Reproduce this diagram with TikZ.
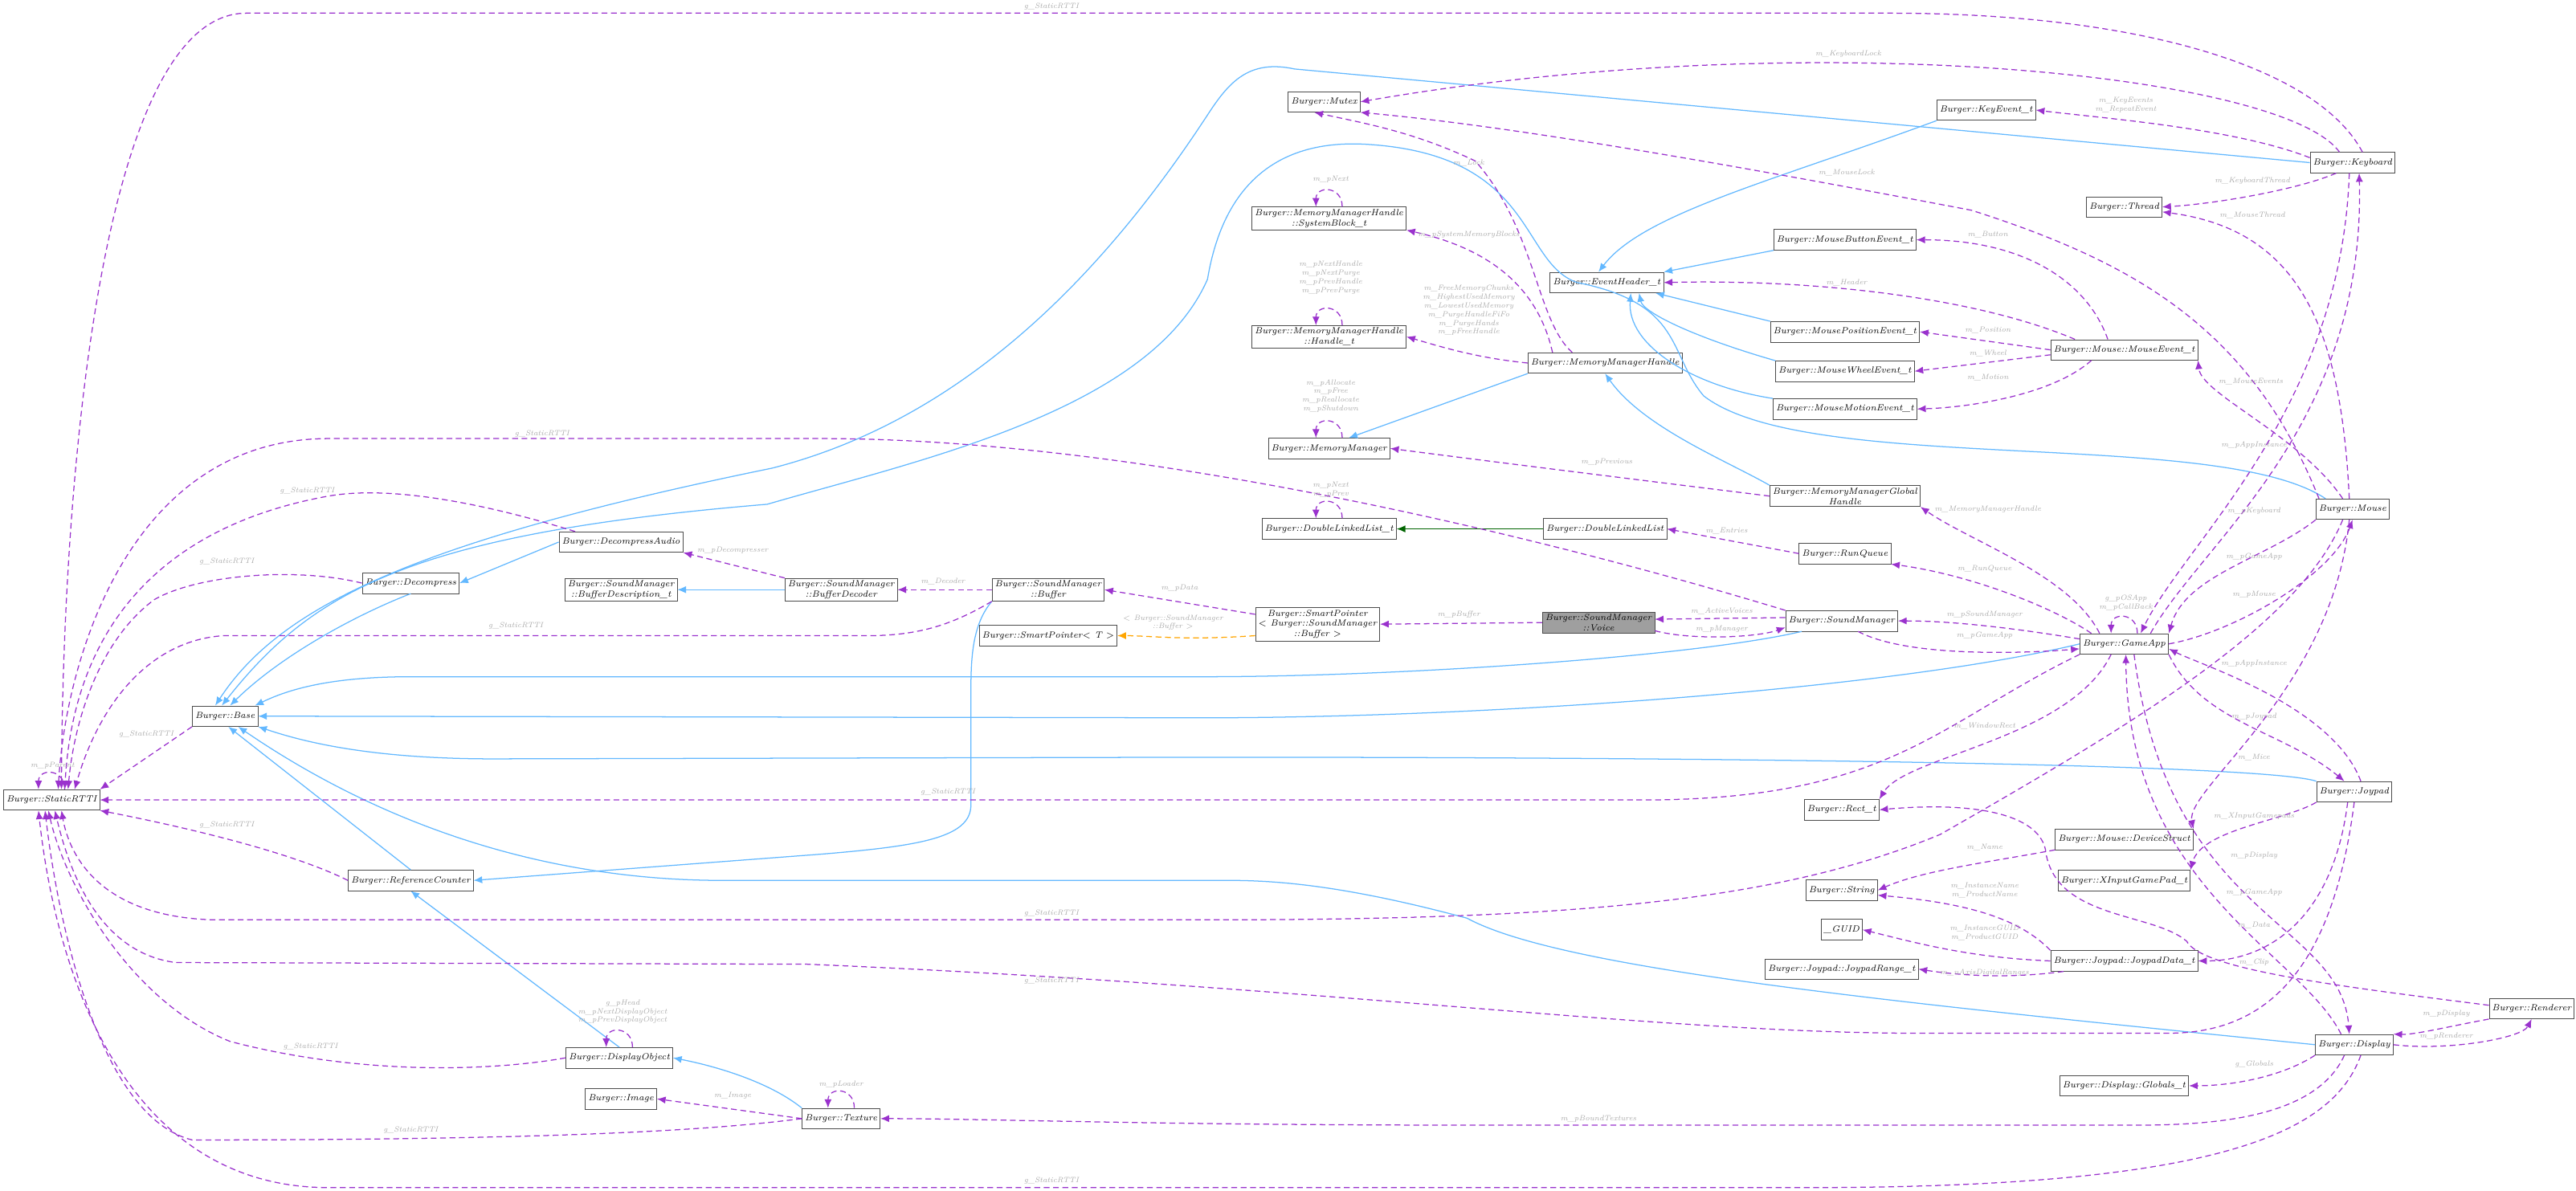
\documentclass[tikz,border=0pt]{standalone}
\usetikzlibrary{arrows.meta,calc}

\definecolor{usecol}{HTML}{9A32CD}
\definecolor{inhcol}{HTML}{63B8FF}
\definecolor{tplcol}{HTML}{FFA500}
\definecolor{grncol}{HTML}{006400}
\definecolor{lblcol}{HTML}{A8A8A8}

\tikzset{
  cls/.style={draw=gray!60!black, fill=white, font=\fontsize{6.2}{7.2}\selectfont\itshape,
    inner xsep=2pt, inner ysep=1.5pt, minimum height=0.5cm, align=center},
  cur/.style={cls, fill=gray!75},
  lbl/.style={font=\fontsize{5.2}{6}\selectfont\itshape, text=lblcol, inner sep=0.5pt, align=center},
  use/.style={draw=usecol, line width=0.7pt, dash pattern=on 4pt off 2.5pt, -{Latex[length=6pt,width=5pt]}},
  inh/.style={draw=inhcol, line width=0.7pt, -{Latex[length=6pt,width=5pt]}},
  grn/.style={draw=grncol, line width=0.9pt, -{Latex[length=6pt,width=5pt]}},
  tpl/.style={draw=tplcol, line width=0.7pt, dash pattern=on 4pt off 2.5pt, -{Latex[length=6pt,width=5pt]}}
}
\newcommand{\selfloop}[1]{\draw[use] ($(#1.north)+(8,0)$) .. controls +(0,-13) and +(0,-13) .. ($(#1.north)+(-8,0)$);}

\begin{document}
\begin{tikzpicture}[x=0.04cm, y=-0.04cm]
\useasboundingbox (0,0) rectangle (1568,725);

% classes, left part
\node[cls, anchor=west] (rtti) at (2,487) {Burger::StaticRTTI};
\node[cls] (base) at (137,436) {Burger::Base};
\node[cls] (decomp) at (250,355) {Burger::Decompress};
\node[cls] (decaud) at (378,330) {Burger::DecompressAudio};
\node[cls] (bufdesc) at (378,359) {Burger::SoundManager\\::BufferDescription\_t};
\node[cls] (bufdec) at (512,359) {Burger::SoundManager\\::BufferDecoder};
\node[cls] (sbuf) at (638,359) {Burger::SoundManager\\::Buffer};
\node[cls] (sptrT) at (638,387) {Burger::SmartPointer$<$ T $>$};
\node[cls] (sptrbuf) at (802,380) {Burger::SmartPointer\\$<$ Burger::SoundManager\\::Buffer $>$};
\node[cur] (voice) at (973,379) {Burger::SoundManager\\::Voice};
\node[cls] (sndmgr) at (1121,378) {Burger::SoundManager};
\node[cls] (gameapp) at (1293,392) {Burger::GameApp};
\node[cls] (refcnt) at (250,536) {Burger::ReferenceCounter};
\node[cls] (dispobj) at (377,644) {Burger::DisplayObject};
\node[cls] (image) at (378,669) {Burger::Image};
\node[cls] (texture) at (512,681) {Burger::Texture};

% memory and events
\node[cls] (mutex) at (806,62) {Burger::Mutex};
\node[cls] (sysblk) at (809,133) {Burger::MemoryManagerHandle\\::SystemBlock\_t};
\node[cls] (handle) at (809,205) {Burger::MemoryManagerHandle\\::Handle\_t};
\node[cls] (memmgr) at (809,273) {Burger::MemoryManager};
\node[cls] (dllt) at (809,322) {Burger::DoubleLinkedList\_t};
\node[cls] (mmh) at (977,221) {Burger::MemoryManagerHandle};
\node[cls] (mmgh) at (1123,302) {Burger::MemoryManagerGlobal\\Handle};
\node[cls] (dll) at (977,322) {Burger::DoubleLinkedList};
\node[cls] (runq) at (1123,337) {Burger::RunQueue};
\node[cls] (evhdr) at (978,172) {Burger::EventHeader\_t};
\node[cls] (keyev) at (1209,67) {Burger::KeyEvent\_t};
\node[cls] (mbtn) at (1123,146) {Burger::MouseButtonEvent\_t};
\node[cls] (mpos) at (1123,202) {Burger::MousePositionEvent\_t};
\node[cls] (mwheel) at (1123,226) {Burger::MouseWheelEvent\_t};
\node[cls] (mmotion) at (1123,249) {Burger::MouseMotionEvent\_t};
\node[cls] (mevent) at (1293,213) {Burger::Mouse::MouseEvent\_t};
\node[cls] (thread) at (1293,126) {Burger::Thread};
\node[cls] (keyboard) at (1432,99) {Burger::Keyboard};
\node[cls] (mouse) at (1432,310) {Burger::Mouse};

% right lower part
\node[cls] (joypad) at (1433,482) {Burger::Joypad};
\node[cls] (rect) at (1121,493) {Burger::Rect\_t};
\node[cls] (devstruct) at (1293,511) {Burger::Mouse::DeviceStruct};
\node[cls] (xinput) at (1293,536) {Burger::XInputGamePad\_t};
\node[cls] (string) at (1121,542) {Burger::String};
\node[cls] (guid) at (1121,566) {\_GUID};
\node[cls] (jdata) at (1293,585) {Burger::Joypad::JoypadData\_t};
\node[cls] (jrange) at (1121,590) {Burger::Joypad::JoypadRange\_t};
\node[cls] (renderer) at (1541,614) {Burger::Renderer};
\node[cls] (display) at (1433,636) {Burger::Display};
\node[cls] (globals) at (1293,661) {Burger::Display::Globals\_t};

% inheritance
\draw[inh] (keyboard.west) -- (788,42) .. controls (760,36) and (748,50) .. (735,70) .. controls (650,200) and (560,262) .. (470,285) .. controls (250,330) and (170,370) .. ($(base.north)+(-6,0)$);
\draw[inh] ($(mouse.north west)+(6,0)$) .. controls (1350,260) and (1100,290) .. (1037,241) .. controls (1015,215) and (1025,185) .. (960,172) .. controls (925,160) and (935,95) .. (834,88) .. controls (780,84) and (745,110) .. (735,170) .. controls (700,250) and (560,280) .. (467,307) .. controls (250,325) and (190,360) .. ($(base.north)+(-2,0)$);
\draw[inh] (decaud.west) -- (decomp.east);
\draw[inh] (decomp.south) .. controls (215,375) and (170,400) .. ($(base.north)+(3,0)$);
\draw[inh] ($(sndmgr.south west)+(10,0)$) .. controls (1030,400) and (850,412) .. (733,412) -- (250,412) .. controls (200,412) and (175,420) .. ($(base.north east)+(-2,0)$);
\draw[inh] (gameapp.west) .. controls (1150,420) and (900,437) .. (733,437) -- (base.east);
\draw[inh] (joypad.north west) .. controls (1380,466) and (1100,461) .. (733,461) -- (300,462) .. controls (220,462) and (180,450) .. (base.south east);
\draw[inh] (display.west) .. controls (1150,610) and (950,590) .. (893,559) .. controls (800,534) and (760,536) .. (733,536) -- (440,536) .. controls (300,536) and (200,480) .. ($(base.south)+(8,0)$);
\draw[inh] (refcnt.north) -- ($(base.south)+(2,0)$);
\draw[inh] (dispobj.north) -- (refcnt.south);
\draw[inh] (texture.north west) .. controls (470,660) and (440,650) .. (dispobj.east);
\draw[inh] (sbuf.south west) .. controls (592,380) and (591,400) .. (591,420) -- (591,490) .. controls (591,510) and (560,515) .. (500,520) -- (refcnt.east);
\draw[inh] (bufdec.west) -- (bufdesc.east);
\draw[inh] (mmh.south west) -- ($(memmgr.north)+(12,0)$);
\draw[inh] (mmgh.north west) .. controls (1050,280) and (1000,260) .. (mmh.south);
\draw[inh] (keyev.south west) .. controls (1080,110) and (1000,130) .. ($(evhdr.north)+(-5,0)$);
\draw[inh] (mbtn.south west) -- (evhdr.north east);
\draw[inh] (mpos.north west) -- ($(evhdr.south east)+(-5,0)$);
\draw[inh] (mwheel.north west) .. controls (1030,205) and (1000,190) .. ($(evhdr.south east)+(-15,0)$);
\draw[inh] (mmotion.north west) .. controls (1030,235) and (990,210) .. ($(evhdr.south east)+(-20,0)$);
\draw[grn] (dll.west) -- (dllt.east);
\draw[tpl] ($(sptrbuf.west)+(0,7)$) .. controls (720,390) and (700,387) .. (sptrT.east);
\node[lbl] (lt1) at (714,379) {$<$ Burger::SoundManager\\::Buffer $>$};

% static rtti links
\draw[use] ($(keyboard.north)+(6,0)$) .. controls (1410,40) and (1300,8) .. (1150,8) -- (150,8) .. controls (60,8) and (38,300) .. ($(rtti.north)+(6,0)$);
\node[lbl] (l1) at (640,4) {g\_StaticRTTI};
\draw[use] ($(decaud.north west)+(10,0)$) .. controls (300,308) and (240,295) .. (200,302) .. controls (100,320) and (45,380) .. ($(rtti.north)+(8,0)$);
\node[lbl] (l2) at (187,299) {g\_StaticRTTI};
\draw[use] (decomp.west) .. controls (180,345) and (120,350) .. (94,365) .. controls (60,390) and (45,440) .. ($(rtti.north)+(10,0)$);
\node[lbl] (l3) at (138,342) {g\_StaticRTTI};
\draw[use] (sndmgr.north west) .. controls (950,330) and (700,267) .. (500,267) -- (200,267) .. controls (80,267) and (40,400) .. ($(rtti.north)+(4,0)$);
\node[lbl] (l4) at (330,264) {g\_StaticRTTI};
\draw[use] (sbuf.south west) .. controls (580,380) and (560,387) .. (528,387) -- (136,387) .. controls (90,390) and (60,430) .. ($(rtti.north)+(14,0)$);
\node[lbl] (l5) at (314,381) {g\_StaticRTTI};
\draw[use] (base.south west) -- (rtti.north east);
\node[lbl] (l6) at (89,447) {g\_StaticRTTI};
\draw[use] (gameapp.south west) .. controls (1180,440) and (1150,487) .. (1000,487) -- (rtti.east);
\node[lbl] (l7) at (577,482) {g\_StaticRTTI};
\draw[use] (refcnt.west) .. controls (180,520) and (120,505) .. (rtti.south east);
\node[lbl] (l8) at (138,502) {g\_StaticRTTI};
\draw[use] ($(mouse.south)+(-6,0)$) .. controls (1400,380) and (1300,440) .. (1181,508) .. controls (1080,550) and (950,560) .. (733,560) -- (130,560) .. controls (60,558) and (42,520) .. ($(rtti.south)+(6,0)$);
\node[lbl] (l9) at (640,556) {g\_StaticRTTI};
\draw[use] (joypad.south) .. controls (1420,590) and (1380,629) .. (1320,629) -- (1160,629) .. controls (1000,628) and (800,600) .. (491,587) -- (107,586) .. controls (60,580) and (42,530) .. ($(rtti.south)+(2,0)$);
\node[lbl] (l10) at (640,597) {g\_StaticRTTI};
\draw[use] (dispobj.west) .. controls (300,652) and (220,655) .. (140,634) .. controls (80,610) and (40,540) .. ($(rtti.south)+(-2,0)$);
\node[lbl] (l11) at (189,637) {g\_StaticRTTI};
\draw[use] (texture.west) .. controls (420,690) and (300,694) .. (117,694) .. controls (60,680) and (35,560) .. ($(rtti.south)+(-4,0)$);
\node[lbl] (l12) at (250,688) {g\_StaticRTTI};
\draw[use] ($(display.south)+(4,0)$) .. controls (1420,690) and (1350,723) .. (1100,723) -- (200,723) .. controls (80,723) and (35,600) .. ($(rtti.south)+(-8,0)$);
\node[lbl] (l13) at (640,719) {g\_StaticRTTI};
\selfloop{rtti}
\node[lbl] (l14) at (32,466) {m\_pParent};

% left side members
\draw[use] (bufdec.north west) -- (decaud.south east);
\node[lbl] (l15) at (446,335) {m\_pDecompresser};
\draw[use] (sbuf.west) -- (bufdec.east);
\node[lbl] (l16) at (574,354) {m\_Decoder};
\draw[use] ($(sptrbuf.west)+(0,-6)$) -- (sbuf.east);
\node[lbl] (l17) at (718,358) {m\_pData};
\draw[use] (voice.west) -- (sptrbuf.east);
\node[lbl] (l18) at (888,374) {m\_pBuffer};
\draw[use] (texture.west) -- (image.east);
\node[lbl] (l19) at (446,667) {m\_Image};
\selfloop{dispobj}
\node[lbl] (l20) at (379,616) {g\_pHead\\m\_pNextDisplayObject\\m\_pPrevDisplayObject};
\selfloop{texture}
\node[lbl] (l21) at (512,660) {m\_pLoader};

% memory members
\selfloop{sysblk}
\node[lbl] (l22) at (810,109) {m\_pNext};
\selfloop{handle}
\node[lbl] (l23) at (810,169) {m\_pNextHandle\\m\_pNextPurge\\m\_pPrevHandle\\m\_pPrevPurge};
\selfloop{memmgr}
\node[lbl] (l24) at (810,241) {m\_pAllocate\\m\_pFree\\m\_pReallocate\\m\_pShutdown};
\selfloop{dllt}
\node[lbl] (l25) at (810,298) {m\_pNext\\m\_pPrev};
\draw[use] ($(mmh.north)+(-20,0)$) .. controls (935,195) and (935,140) .. (898,98) .. controls (860,80) and (830,75) .. ($(mutex.south)+(-6,0)$);
\node[lbl] (l26) at (894,99) {m\_Lock};
\draw[use] ($(mmh.north)+(-32,0)$) .. controls (935,170) and (900,150) .. (sysblk.south east);
\node[lbl] (l27) at (894,143) {m\_pSystemMemoryBlocks};
\draw[use] (mmh.west) .. controls (900,218) and (880,212) .. (handle.east);
\node[lbl] (l28) at (894,189) {m\_FreeMemoryChunks\\m\_HighestUsedMemory\\m\_LowestUsedMemory\\m\_PurgeHandleFiFo\\m\_PurgeHands\\m\_pFreeHandle};
\draw[use] (mmgh.west) .. controls (980,290) and (900,280) .. (memmgr.east);
\node[lbl] (l29) at (978,281) {m\_pPrevious};
\draw[use] (runq.west) -- (dll.east);
\node[lbl] (l30) at (1051,323) {m\_Entries};

% keyboard and mouse members
\draw[use] ($(keyboard.north)+(-8,0)$) .. controls (1390,45) and (1100,15) .. (mutex.east);
\node[lbl] (l31) at (1125,33) {m\_KeyboardLock};
\draw[use] ($(keyboard.west)+(0,-3)$) .. controls (1360,78) and (1280,72) .. (keyev.east);
\node[lbl] (l32) at (1294,64) {m\_KeyEvents\\m\_RepeatEvent};
\draw[use] ($(keyboard.south)+(-10,0)$) .. controls (1400,115) and (1350,124) .. (thread.east);
\node[lbl] (l33) at (1371,110) {m\_KeyboardThread};
\draw[use] ($(mouse.north)+(-2,0)$) .. controls (1425,200) and (1400,140) .. ($(thread.east)+(0,3)$);
\node[lbl] (l34) at (1371,131) {m\_MouseThread};
\draw[use] ($(mouse.north west)+(2,0)$) .. controls (1370,200) and (1300,160) .. (1200,128) .. controls (1000,90) and (900,75) .. (mutex.south east);
\node[lbl] (l35) at (1124,105) {m\_MouseLock};
\draw[use] ($(mevent.north)+(-10,0)$) .. controls (1270,170) and (1230,146) .. (mbtn.east);
\node[lbl] (l36) at (1210,143) {m\_Button};
\draw[use] ($(mevent.north)+(-30,0)$) .. controls (1200,180) and (1100,170) .. (evhdr.east);
\node[lbl] (l37) at (1124,172) {m\_Header};
\draw[use] (mevent.west) -- (mpos.east);
\node[lbl] (l38) at (1210,201) {m\_Position};
\draw[use] ($(mevent.west)+(0,3)$) -- (mwheel.east);
\node[lbl] (l39) at (1210,215) {m\_Wheel};
\draw[use] ($(mevent.south)+(-20,0)$) .. controls (1250,240) and (1200,248) .. (mmotion.east);
\node[lbl] (l40) at (1210,230) {m\_Motion};
\draw[use] ($(mouse.north)+(-6,0)$) .. controls (1400,265) and (1340,240) .. (mevent.south east);
\node[lbl] (l41) at (1370,232) {m\_MouseEvents};

% game app members
\selfloop{gameapp}
\node[lbl] (l42) at (1294,367) {g\_pOSApp\\m\_pCallBack};
\draw[use] ($(keyboard.south)+(-2,0)$) .. controls (1425,250) and (1330,330) .. ($(gameapp.north)+(10,0)$);
\node[lbl] (l43) at (1372,271) {m\_pAppInstance};
\draw[use] ($(gameapp.north)+(16,0)$) .. controls (1340,330) and (1440,260) .. ($(keyboard.south)+(4,0)$);
\node[lbl] (l44) at (1372,311) {m\_pKeyboard};
\draw[use] (mouse.south west) .. controls (1380,340) and (1330,350) .. (gameapp.north east);
\node[lbl] (l45) at (1372,339) {m\_pGameApp};
\draw[use] (gameapp.east) .. controls (1360,385) and (1420,350) .. (mouse.south);
\node[lbl] (l46) at (1372,362) {m\_pMouse};
\draw[use] ($(gameapp.north)+(-15,0)$) .. controls (1260,350) and (1200,330) .. (mmgh.south east);
\node[lbl] (l47) at (1210,310) {m\_MemoryManagerHandle};
\draw[use] ($(gameapp.north)+(-20,0)$) .. controls (1250,370) and (1200,350) .. (runq.south east);
\node[lbl] (l48) at (1208,346) {m\_RunQueue};
\draw[use] ($(gameapp.west)+(0,-3)$) .. controls (1230,383) and (1190,378) .. (sndmgr.east);
\node[lbl] (l49) at (1208,374) {m\_pSoundManager};
\draw[use] ($(sndmgr.south)+(10,0)$) .. controls (1160,400) and (1230,398) .. ($(gameapp.west)+(0,3)$);
\node[lbl] (l50) at (1208,387) {m\_pGameApp};
\draw[use] ($(sndmgr.west)+(0,-2)$) -- ($(voice.east)+(0,-2)$);
\node[lbl] (l51) at (1048,372) {m\_ActiveVoices};
\draw[use] ($(voice.east)+(0,5)$) .. controls (1030,390) and (1070,388) .. ($(sndmgr.west)+(0,4)$);
\node[lbl] (l52) at (1048,383) {m\_pManager};
\draw[use] ($(gameapp.south)+(-8,0)$) .. controls (1260,450) and (1160,460) .. (rect.north east);
\node[lbl] (l53) at (1208,442) {m\_WindowRect};
\draw[use] (gameapp.south east) .. controls (1340,440) and (1390,445) .. ($(joypad.north)+(-6,0)$);
\node[lbl] (l54) at (1372,436) {m\_pJoypad};
\draw[use] ($(joypad.north)+(4,0)$) .. controls (1420,430) and (1340,405) .. ($(gameapp.east)+(0,3)$);
\node[lbl] (l55) at (1372,404) {m\_pAppInstance};
\draw[use] ($(gameapp.south)+(6,0)$) .. controls (1320,560) and (1425,560) .. ($(display.north)+(-3,0)$);
\node[lbl] (l56) at (1372,521) {m\_pDisplay};
\draw[use] ($(display.north)+(-8,0)$) .. controls (1400,580) and (1295,540) .. ($(gameapp.south)+(1,0)$);
\node[lbl] (l57) at (1372,543) {m\_pGameApp};

% devices
\draw[use] ($(mouse.south)+(-2,0)$) .. controls (1420,420) and (1330,480) .. (devstruct.north east);
\node[lbl] (l58) at (1372,461) {m\_Mice};
\draw[use] (joypad.south west) .. controls (1390,500) and (1340,505) .. (xinput.north east);
\node[lbl] (l59) at (1372,497) {m\_XInputGamepads};
\draw[use] ($(joypad.south)+(-4,0)$) .. controls (1420,560) and (1380,585) .. (jdata.east);
\node[lbl] (l60) at (1372,563) {m\_Data};
\draw[use] (devstruct.south west) .. controls (1210,525) and (1170,530) .. (string.east);
\node[lbl] (l61) at (1208,516) {m\_Name};
\draw[use] (jdata.north west) .. controls (1230,560) and (1200,550) .. ($(string.east)+(0,3)$);
\node[lbl] (l62) at (1208,542) {m\_InstanceName\\m\_ProductName};
\draw[use] (jdata.west) .. controls (1200,583) and (1170,575) .. (guid.east);
\node[lbl] (l63) at (1208,568) {m\_InstanceGUID\\m\_ProductGUID};
\draw[use] ($(jdata.south west)+(8,0)$) .. controls (1230,595) and (1200,595) .. (jrange.east);
\node[lbl] (l64) at (1208,592) {m\_uAxisDigitalRanges};

% display and renderer
\draw[use] ($(renderer.west)+(0,-2)$) .. controls (1420,600) and (1340,590) .. (1331,573) .. controls (1310,555) and (1250,560) .. (1245,517) .. controls (1240,495) and (1200,488) .. (rect.east);
\node[lbl] (l65) at (1372,586) {m\_Clip};
\draw[use] (renderer.south west) .. controls (1490,625) and (1470,630) .. (display.north east);
\node[lbl] (l66) at (1489,617) {m\_pDisplay};
\draw[use] (display.east) .. controls (1490,640) and (1535,632) .. (renderer.south);
\node[lbl] (l67) at (1489,631) {m\_pRenderer};
\draw[use] (display.south west) .. controls (1390,655) and (1360,661) .. (globals.east);
\node[lbl] (l68) at (1372,648) {g\_Globals};
\draw[use] ($(display.south)+(-6,0)$) .. controls (1410,680) and (1350,685) .. (1300,685) -- (900,685) .. controls (700,685) and (600,681) .. (texture.east);
\node[lbl] (l69) at (973,681) {m\_pBoundTextures};

\end{tikzpicture}
\end{document}
